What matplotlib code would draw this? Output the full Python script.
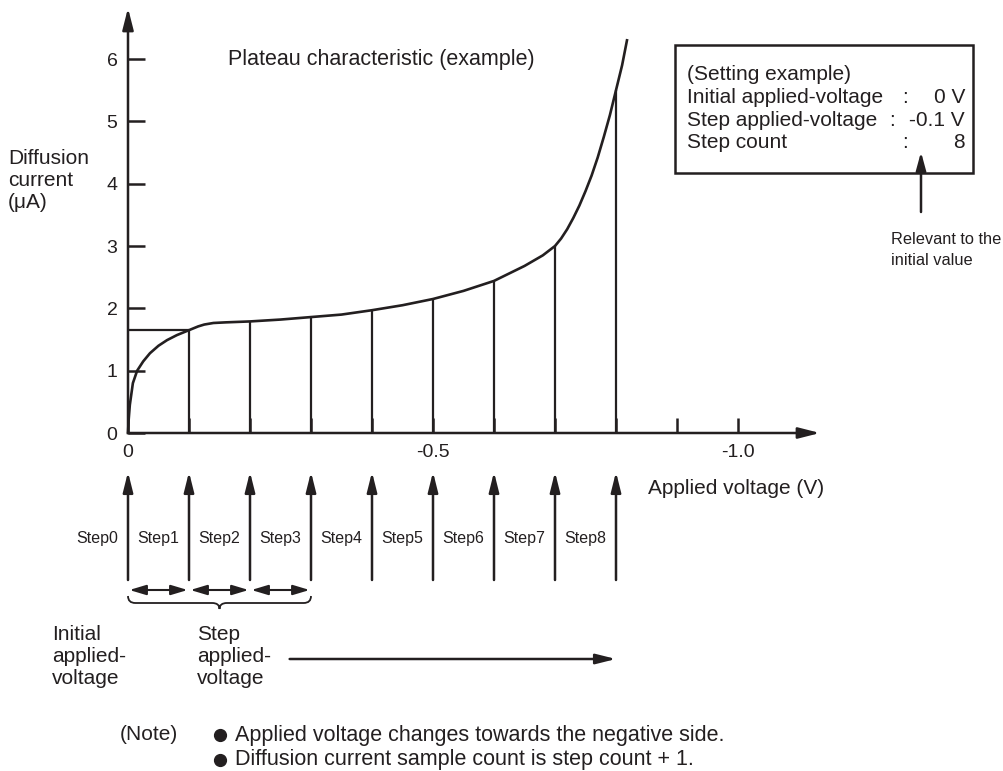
import matplotlib
matplotlib.use("Agg")
import matplotlib.pyplot as plt
from matplotlib import transforms
from matplotlib.patches import Rectangle, PathPatch
from matplotlib.path import Path

plt.rcParams["font.family"] = ["Liberation Sans", "DejaVu Sans"]

INK = "#231f20"
W, H = 1004, 771
FS = 15

# plateau curve (V, uA)
curve_v = [0, -0.001, -0.003, -0.008, -0.015, -0.025, -0.036, -0.05, -0.064, -0.08, -0.1,
           -0.115, -0.125, -0.14, -0.16, -0.2, -0.25, -0.3, -0.35, -0.4, -0.45, -0.5,
           -0.55, -0.6, -0.65, -0.68, -0.7, -0.71, -0.72, -0.73, -0.74, -0.75, -0.76,
           -0.77, -0.78, -0.79, -0.8, -0.81, -0.818]
curve_i = [0, 0.2, 0.45, 0.8, 1.0, 1.15, 1.28, 1.4, 1.49, 1.57, 1.65,
           1.71, 1.74, 1.765, 1.775, 1.79, 1.82, 1.86, 1.9, 1.97, 2.05, 2.15,
           2.28, 2.44, 2.68, 2.85, 3.0, 3.12, 3.27, 3.45, 3.65, 3.88, 4.13,
           4.42, 4.75, 5.1, 5.5, 5.9, 6.3]

# sampled points (one per step)
step_v = [-0.1, -0.2, -0.3, -0.4, -0.5, -0.6, -0.7, -0.8]
step_i = [1.65, 1.78, 1.86, 1.97, 2.15, 2.44, 3.0, 5.5]
step_names = ["Step0", "Step1", "Step2", "Step3", "Step4", "Step5", "Step6", "Step7", "Step8"]
initial_v = 0.0

y_ticks = [0, 1, 2, 3, 4, 5, 6]
x_ticks = [0, -0.1, -0.2, -0.3, -0.4, -0.5, -0.6, -0.7, -0.8, -0.9, -1.0]
x_ticklabels = ["0", "", "", "", "", "-0.5", "", "", "", "", "-1.0"]

fig = plt.figure(figsize=(W / 100, H / 100), dpi=100)
fig.patch.set_facecolor("white")

# overlay in pixel units for the notes
ov = fig.add_axes([0, 0, 1, 1])
ov.set_xlim(0, W)
ov.set_ylim(H, 0)
ov.axis("off")

ax = fig.add_axes([128 / W, 1 - 433 / H, (820 - 128) / W, (433 - 8) / H])
ax.patch.set_visible(False)
ax.set_xlim(0, -692 / 610)
ax.set_ylim(0, 425 / 62.33)
for s in ax.spines.values():
    s.set_visible(False)

arrow_kw = dict(arrowstyle="-|>,head_length=1.3,head_width=0.33", color=INK, lw=1.8,
                shrinkA=0, shrinkB=0)
ax.annotate("", xy=(1, 0), xytext=(0, 0), xycoords="axes fraction", arrowprops=arrow_kw)
ax.annotate("", xy=(0, 1), xytext=(0, 0), xycoords="axes fraction", arrowprops=arrow_kw)

ax.set_yticks(y_ticks)
ax.set_xticks(x_ticks)
ax.set_xticklabels(x_ticklabels)
ax.tick_params(axis="y", direction="in", length=12, width=1.8, pad=7.5, labelsize=14,
               color=INK, labelcolor=INK)
ax.tick_params(axis="x", direction="in", length=11, width=1.8, pad=8, labelsize=14,
               color=INK, labelcolor=INK)

ax.plot(curve_v, curve_i, color=INK, lw=1.9, clip_on=False, solid_joinstyle="round")
ax.vlines(step_v, 0, step_i, color=INK, lw=1.6)
ax.hlines(step_i[0], initial_v, step_v[0], color=INK, lw=1.6)

ov.text(228, 60, "Plateau characteristic (example)", fontsize=FS + 0.5, color=INK, va="center")
ov.text(8, 180, "Diffusion\ncurrent\n(\u03bcA)", fontsize=FS, color=INK, va="center",
        linespacing=1.2)
ov.text(648, 488, "Applied voltage (V)", fontsize=FS, color=INK, va="center")

# setting example box
ov.add_patch(Rectangle((675, 45), 298, 128, fill=False, ec=INK, lw=1.8))
box_rows = [("(Setting example)", "", ""),
            ("Initial applied-voltage", ":", "0 V"),
            ("Step applied-voltage", ":", "-0.1 V"),
            ("Step count", ":", "8")]
colon_x = [0, 905, 892, 905]
for k, (lab, col, val) in enumerate(box_rows):
    yy = 75 + k * 22.5
    ov.text(687, yy, lab, fontsize=FS, color=INK, va="center")
    if col:
        ov.text(colon_x[k], yy, col, fontsize=FS, color=INK, va="center", ha="center")
        ov.text(965, yy, val, fontsize=FS, color=INK, va="center", ha="right")
ov.annotate("", xy=(921, 152), xytext=(921, 212), arrowprops=dict(
    arrowstyle="-|>,head_length=1.1,head_width=0.3", color=INK, lw=1.8, shrinkA=0, shrinkB=0))
ov.text(891, 250, "Relevant to the\ninitial value", fontsize=11.8, color=INK, va="center",
        linespacing=1.5)

# step arrows below the axis
tr = transforms.blended_transform_factory(ax.transData, ov.transData)
all_v = [initial_v] + step_v
for k, v in enumerate(all_v):
    ov.annotate("", xy=(v, 472), xytext=(v, 580), xycoords=tr, textcoords=tr,
                arrowprops=dict(arrowstyle="-|>,head_length=1.2,head_width=0.3", color=INK,
                                lw=1.8, shrinkA=0, shrinkB=0))
    ov.text(v + 0.05, 538, step_names[k], transform=tr, fontsize=11.5, color=INK,
            ha="center", va="center")

for a, b in zip(all_v[:3], all_v[1:4]):
    ov.annotate("", xy=(b, 590), xytext=(a, 590), xycoords=tr, textcoords=tr,
                arrowprops=dict(arrowstyle="<|-|>,head_length=1.0,head_width=0.3", color=INK,
                                lw=1.5, shrinkA=1, shrinkB=1))

# brace under the first three step widths
x0, x1 = all_v[0], all_v[3]
xc = (x0 + x1) / 2
r = 0.012
verts = [(x0, 596), (x0, 603), (x0 - r, 603), (xc + r, 603), (xc, 603), (xc, 609),
         (xc, 603), (xc - r, 603), (x1 + r, 603), (x1, 603), (x1, 596)]
codes = [Path.MOVETO, Path.CURVE3, Path.CURVE3, Path.LINETO, Path.CURVE3, Path.CURVE3,
         Path.CURVE3, Path.CURVE3, Path.LINETO, Path.CURVE3, Path.CURVE3]
ov.add_patch(PathPatch(Path(verts, codes), transform=tr, fill=False, ec=INK, lw=1.3))

ov.text(52, 657, "Initial\napplied-\nvoltage", fontsize=FS, color=INK, va="center",
        linespacing=1.2)
ov.text(197, 657, "Step\napplied-\nvoltage", fontsize=FS, color=INK, va="center",
        linespacing=1.2)
ov.annotate("", xy=(step_v[-1], 659), xytext=(-0.265, 659), xycoords=tr, textcoords=tr,
            arrowprops=dict(arrowstyle="-|>,head_length=1.2,head_width=0.3", color=INK,
                            lw=1.8, shrinkA=0, shrinkB=0))

# notes
ov.text(120, 735, "(Note)", fontsize=FS, color=INK, va="center")
notes = ["Applied voltage changes towards the negative side.",
         "Diffusion current sample count is step count + 1."]
for k, line in enumerate(notes):
    yy = 735 + k * 25
    ov.plot(220, yy, "o", ms=8.5, color=INK)
    ov.text(235, yy, line, fontsize=FS + 0.5, color=INK, va="center")

fig.savefig("out.png", dpi=100)
